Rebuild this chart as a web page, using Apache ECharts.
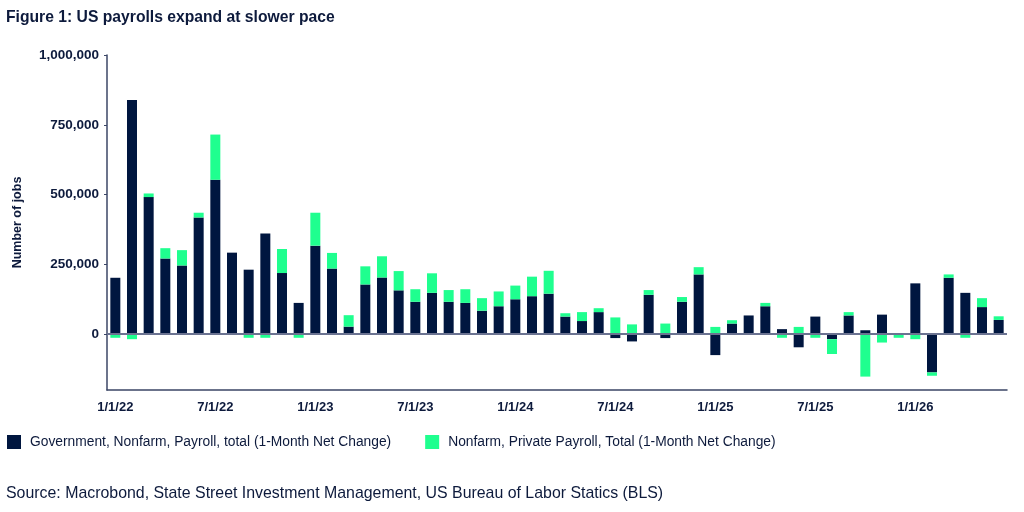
<!DOCTYPE html>
<html>
<head>
<meta charset="utf-8">
<title>US payrolls expand at slower pace</title>
<script src="https://cdn.jsdelivr.net/npm/echarts@6/dist/echarts.min.js"></script>
<style>
  html, body { margin: 0; padding: 0; background: #fff; }
  #chart { width: 1024px; height: 512px; }
</style>
</head>
<body>
<div id="chart"></div>
<script>
const months = [
  '1/1/22', '2/1/22', '3/1/22', '4/1/22', '5/1/22', '6/1/22', '7/1/22', '8/1/22', '9/1/22', '10/1/22', '11/1/22', '12/1/22',
  '1/1/23', '2/1/23', '3/1/23', '4/1/23', '5/1/23', '6/1/23', '7/1/23', '8/1/23', '9/1/23', '10/1/23', '11/1/23', '12/1/23',
  '1/1/24', '2/1/24', '3/1/24', '4/1/24', '5/1/24', '6/1/24', '7/1/24', '8/1/24', '9/1/24', '10/1/24', '11/1/24', '12/1/24',
  '1/1/25', '2/1/25', '3/1/25', '4/1/25', '5/1/25', '6/1/25', '7/1/25', '8/1/25', '9/1/25', '10/1/25', '11/1/25', '12/1/25',
  '1/1/26', '2/1/26', '3/1/26', '4/1/26', '5/1/26', '6/1/26'
];

// navy bars
const government = [
  202000, 839000, 491000, 271000, 246000, 418000, 553000, 292000, 231000, 361000, 219000, 112000,
  317000, 235000, 27000, 178000, 203000, 157000, 116000, 148000, 116000, 112000, 84000, 100000,
  125000, 136000, 145000, 63000, 47000, 79000, -14000, -26000, 141000, -14000, 116000, 214000,
  -75000, 38000, 67000, 100000, 18000, -47000, 63000, -18000, 67000, 14000, 70000, 0,
  182000, -137000, 202000, 148000, 97000, 51000
];

// green bars
const privatePayroll = [
  -13000, -18000, 13000, 37000, 55000, 17000, 162000, 0, -13000, -13000, 86000, -13000,
  118000, 56000, 41000, 65000, 76000, 69000, 45000, 70000, 42000, 49000, 45000, 53000,
  49000, 70000, 82000, 12000, 32000, 14000, 60000, 35000, 17000, 38000, 17000, 26000,
  26000, 12000, 0, 12000, -13000, 26000, -13000, -53000, 12000, -152000, -30000, -13000,
  -18000, -12000, 12000, -13000, 32000, 13000
];

const yTicks = [0, 250000, 500000, 750000, 1000000];

const navy = '#00163f';
const green = '#1fff8f';
const textColor = '#0d1a3c';
const font = 'Liberation Sans, Arial, sans-serif';

const chart = echarts.init(document.getElementById('chart'));

const option = {
  animation: false,
  backgroundColor: '#ffffff',
  textStyle: { fontFamily: font },
  title: [
    {
      text: 'Figure 1: US payrolls expand at slower pace',
      left: 1,
      top: 5,
      textStyle: { fontSize: 15.7, fontWeight: 'bold', color: textColor, fontFamily: font }
    },
    {
      text: 'Source: Macrobond, State Street Investment Management, US Bureau of Labor Statics (BLS)',
      left: 1,
      top: 481,
      textStyle: { fontSize: 15.9, fontWeight: 'normal', color: textColor, fontFamily: font }
    }
  ],
  legend: {
    left: 2,
    top: 430,
    itemWidth: 14,
    itemHeight: 14,
    itemGap: 34,
    icon: 'rect',
    textStyle: { fontSize: 13.8, color: textColor, fontFamily: font, padding: [0, 0, 0, 4] },
    data: [
      'Government, Nonfarm, Payroll, total (1-Month Net Change)',
      'Nonfarm, Private Payroll, Total (1-Month Net Change)'
    ]
  },
  grid: {
    left: 107,
    right: 17,
    top: 55,
    bottom: 122
  },
  xAxis: {
    type: 'category',
    data: months,
    axisLine: { onZero: false, lineStyle: { color: '#3b4666', width: 1.5 } },
    axisTick: { interval: 5, alignWithLabel: true, length: 3, lineStyle: { color: '#3b4666' } },
    axisLabel: {
      interval: 5,
      margin: 11,
      fontSize: 13,
      fontWeight: 'bold',
      color: textColor,
      fontFamily: font
    },
    splitLine: { show: false }
  },
  yAxis: {
    type: 'value',
    min: -200000,
    max: 1000000,
    name: 'Number of jobs',
    nameLocation: 'middle',
    nameGap: 83,
    nameTextStyle: { fontSize: 12.5, fontWeight: 'bold', color: textColor, fontFamily: font },
    axisLine: { show: true, lineStyle: { color: '#3b4666', width: 1.5 } },
    axisTick: { show: true, length: 3, customValues: yTicks, lineStyle: { color: '#3b4666' } },
    axisLabel: {
      customValues: yTicks,
      margin: 8,
      fontSize: 13.5,
      fontWeight: 'bold',
      color: textColor,
      fontFamily: font,
      formatter: v => v.toLocaleString('en-US')
    },
    splitLine: { show: false }
  },
  series: [
    {
      name: 'Government, Nonfarm, Payroll, total (1-Month Net Change)',
      type: 'bar',
      stack: 'jobs',
      barWidth: 10,
      itemStyle: { color: navy },
      data: government,
      markLine: {
        silent: true,
        symbol: 'none',
        label: { show: false },
        lineStyle: { color: '#6b7391', width: 2, type: 'solid' },
        data: [{ yAxis: 0 }]
      },
      z: 2
    },
    {
      name: 'Nonfarm, Private Payroll, Total (1-Month Net Change)',
      type: 'bar',
      stack: 'jobs',
      barWidth: 10,
      itemStyle: { color: green },
      data: privatePayroll,
      z: 2
    }
  ]
};

chart.setOption(option);
</script>
</body>
</html>
